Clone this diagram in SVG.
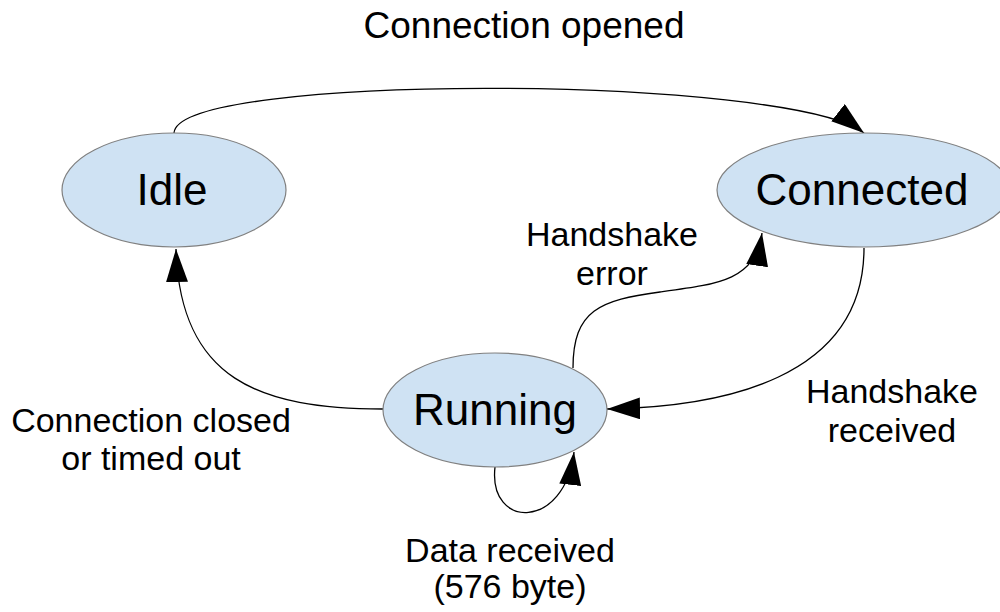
<svg xmlns="http://www.w3.org/2000/svg" width="1000" height="612" viewBox="0 0 1000 612">
  <style>
    .node { fill: #cfe2f3; stroke: #808080; stroke-width: 1.2; }
    .ntext { font-family: "Liberation Sans", Arial, sans-serif; font-size: 44px; fill: #000; text-anchor: middle; }
    .ltext { font-family: "Liberation Sans", Arial, sans-serif; font-size: 34px; fill: #000; text-anchor: middle; }
    .edge { fill: none; stroke: #000; stroke-width: 1.3; marker-end: url(#arrow); }
  </style>
  <defs>
    <marker id="arrow" viewBox="0 0 33 22" refX="33" refY="11" markerWidth="33" markerHeight="22" markerUnits="userSpaceOnUse" orient="auto">
      <path d="M0,0 L33,11 L0,22 z" fill="#000"/>
    </marker>
  </defs>
  <rect width="1000" height="612" fill="#fff"/>

  <g id="connectors">
    <path class="edge" d="M174,133 C178,72 790,75 864,133"/>
    <path class="edge" d="M864,248 C864,380 720,407 607,409"/>
    <path class="edge" d="M573,368 C573,310 600,300 660,292 C720,284 755,280 762,233"/>
    <path class="edge" d="M383,409 C260,409 180,380 176,249"/>
    <path class="edge" d="M495,467 C488,530 565,530 574,452"/>
  </g>

  <g id="node-idle">
    <ellipse class="node" cx="174" cy="190" rx="112" ry="57"/>
    <text class="ntext" x="172" y="205">Idle</text>
  </g>
  <g id="node-connected">
    <ellipse class="node" cx="864" cy="190" rx="147" ry="57"/>
    <text class="ntext" x="862" y="205">Connected</text>
  </g>
  <g id="node-running">
    <ellipse class="node" cx="495" cy="410" rx="112" ry="57"/>
    <text class="ntext" x="495" y="425">Running</text>
  </g>

  <g id="labels">
    <text class="ltext" x="524" y="38" style="font-size:37px">Connection opened</text>
    <text class="ltext" x="612" y="246">Handshake</text>
    <text class="ltext" x="612" y="285">error</text>
    <text class="ltext" x="892" y="403">Handshake</text>
    <text class="ltext" x="892" y="442">received</text>
    <text class="ltext" x="151" y="432">Connection closed</text>
    <text class="ltext" x="151" y="470">or timed out</text>
    <text class="ltext" x="510" y="562">Data received</text>
    <text class="ltext" x="510" y="598">(576 byte)</text>
  </g>
</svg>
